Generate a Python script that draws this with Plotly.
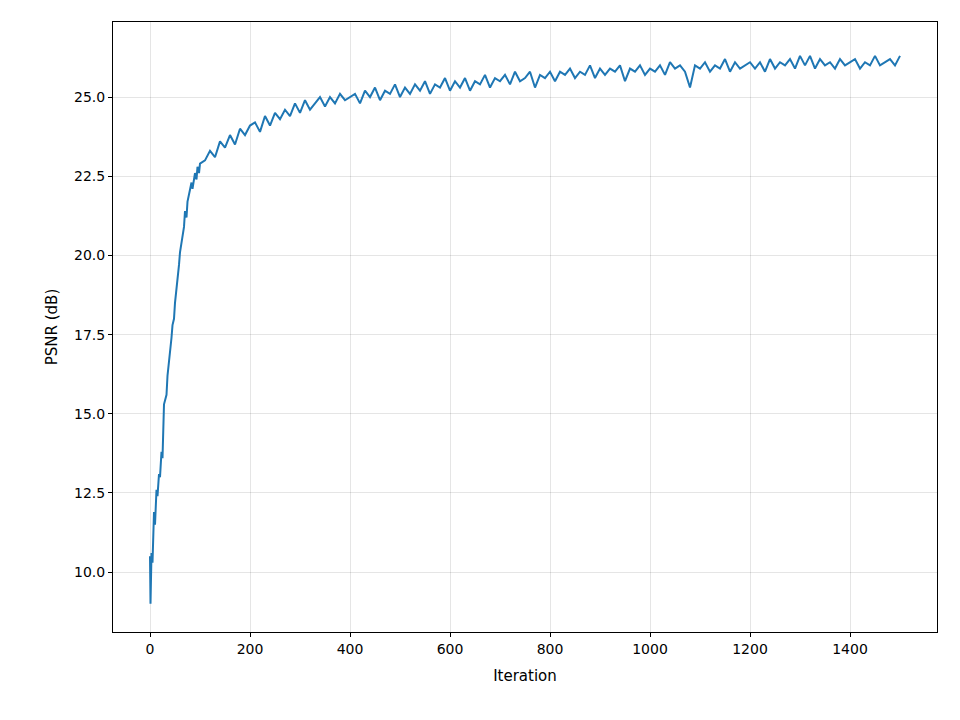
import plotly.graph_objects as go

iters_early = [0, 1, 3, 5, 8, 10, 13, 15, 18, 20, 23, 25, 28, 30, 33, 35, 38, 40, 43, 45, 48, 50,
               53, 55, 58, 60, 63, 65, 68, 70, 73, 75, 78, 80, 83, 85, 88, 90, 93, 95, 98, 100]
psnr_early = [10.5, 9.0, 10.6, 10.3, 11.9, 11.5, 12.6, 12.4, 13.1, 13.0, 13.8, 13.6, 15.3, 15.4, 15.6, 16.2,
              16.6, 16.9, 17.4, 17.8, 18.0, 18.5, 18.9, 19.3, 19.7, 20.1, 20.4, 20.7, 20.9, 21.4, 21.2, 21.7,
              21.9, 22.0, 22.3, 22.1, 22.4, 22.6, 22.4, 22.8, 22.6, 22.9]
psnr_late = [
    23.0, 23.3, 23.1, 23.6, 23.4, 23.8, 23.5, 24.0, 23.8, 24.1,
    24.2, 23.9, 24.4, 24.1, 24.5, 24.3, 24.6, 24.4, 24.8, 24.5,
    24.9, 24.6, 24.8, 25.0, 24.7, 25.0, 24.8, 25.1, 24.9, 25.0,
    25.1, 24.8, 25.2, 25.0, 25.3, 24.9, 25.2, 25.1, 25.4, 25.0,
    25.3, 25.1, 25.4, 25.2, 25.5, 25.1, 25.4, 25.3, 25.6, 25.2,
    25.5, 25.3, 25.6, 25.2, 25.5, 25.4, 25.7, 25.3, 25.6, 25.5,
    25.7, 25.4, 25.8, 25.5, 25.6, 25.8, 25.3, 25.7, 25.6, 25.8,
    25.5, 25.8, 25.7, 25.9, 25.6, 25.8, 25.7, 26.0, 25.6, 25.9,
    25.7, 25.9, 25.8, 26.0, 25.5, 25.9, 25.8, 26.0, 25.7, 25.9,
    25.8, 26.0, 25.7, 26.1, 25.9, 26.0, 25.8, 25.3, 26.0, 25.9,
    26.1, 25.8, 26.0, 25.9, 26.2, 25.8, 26.1, 25.9, 26.0, 26.1,
    25.9, 26.1, 25.8, 26.2, 25.9, 26.1, 26.0, 26.2, 25.9, 26.3,
    26.0, 26.3, 25.9, 26.2, 26.0, 26.1, 25.9, 26.2, 26.0, 26.1,
    26.2, 25.9, 26.1, 26.0, 26.3, 26.0, 26.1, 26.2, 26.0, 26.3,
]
iters_late = list(range(110, 1501, 10))

iters = iters_early + iters_late
psnr = psnr_early + psnr_late

fig = go.Figure(go.Scatter(x=iters, y=psnr, mode="lines",
                           line=dict(color="#1f77b4", width=2)))

axis_style = dict(showline=True, linecolor="black", linewidth=1, mirror=True,
                  ticks="outside", ticklen=4, tickcolor="black",
                  showgrid=True, gridcolor="rgba(0,0,0,0.1)", zeroline=False,
                  tickfont=dict(family="DejaVu Sans", size=14, color="black"),
                  title_font=dict(family="DejaVu Sans", size=15, color="black"))
fig.update_xaxes(range=[-74, 1574], tickvals=list(range(0, 1401, 200)),
                 title_text="Iteration", title_standoff=14, **axis_style)
fig.update_yaxes(range=[8.11, 27.37], tickvals=[10, 12.5, 15, 17.5, 20, 22.5, 25],
                 tickformat=".1f", title_text="PSNR (dB)", title_standoff=12, **axis_style)
fig.update_layout(width=960, height=720, plot_bgcolor="white", paper_bgcolor="white",
                  margin=dict(l=105, r=31, t=14, b=96), showlegend=False)
fig.write_html("out.html")
